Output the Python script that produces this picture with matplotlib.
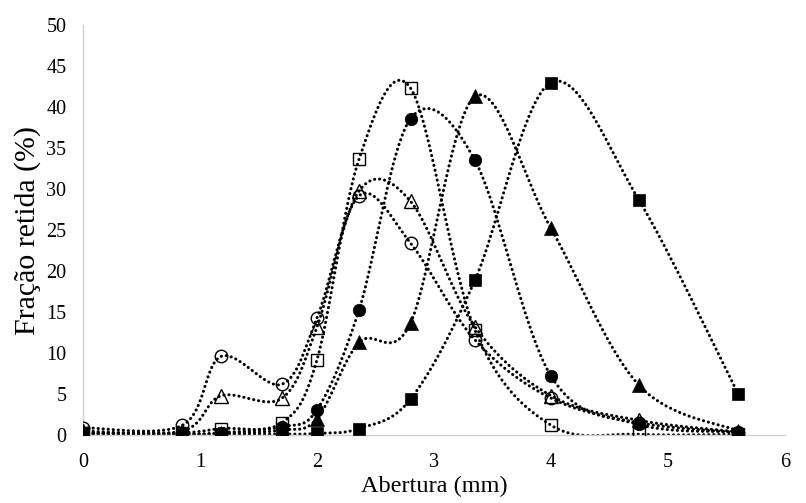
import numpy as np
import matplotlib
matplotlib.use('Agg')
import matplotlib.pyplot as plt

plt.rcParams['font.family'] = ['Liberation Serif', 'DejaVu Serif']

# sieve apertures (mm)
abertura = [0, 0.85, 1.18, 1.7, 2.0, 2.36, 2.8, 3.35, 4.0, 4.75, 5.6]

# retained fraction (%) per series
circ_open = [0.9, 1.2, 9.6, 6.2, 14.3, 29.2, 23.4, 11.6, 4.5, 1.5, 0.3]
tri_open = [0.5, 0.5, 4.8, 4.5, 13.2, 29.8, 28.5, 13.2, 4.8, 1.8, 0.4]
sq_open = [0.2, 0.3, 0.8, 1.5, 9.2, 33.7, 42.3, 12.8, 1.2, 0.1, 0.1]
circ_fill = [0.3, 0.1, 0.3, 1.0, 3.1, 15.3, 38.6, 33.5, 7.2, 1.3, 0.4]
tri_fill = [0.2, 0.1, 0.2, 0.6, 2.0, 11.3, 13.7, 41.3, 25.2, 6.1, 0.5]
sq_fill = [0.1, 0.1, 0.1, 0.1, 0.2, 0.8, 4.4, 18.9, 43.0, 28.7, 5.0]


def smooth(x, y, n=40):
    # catmull-rom style bezier, similar to excel smoothed lines
    x = np.asarray(x, float)
    y = np.asarray(y, float)
    xs, ys = [], []
    for i in range(len(x) - 1):
        p0 = (x[max(i - 1, 0)], y[max(i - 1, 0)])
        p1 = (x[i], y[i])
        p2 = (x[i + 1], y[i + 1])
        p3 = (x[min(i + 2, len(x) - 1)], y[min(i + 2, len(x) - 1)])
        c1 = (p1[0] + (p2[0] - p0[0]) / 6, p1[1] + (p2[1] - p0[1]) / 6)
        c2 = (p2[0] - (p3[0] - p1[0]) / 6, p2[1] - (p3[1] - p1[1]) / 6)
        t = np.linspace(0, 1, n)
        b0 = (1 - t) ** 3
        b1 = 3 * (1 - t) ** 2 * t
        b2 = 3 * (1 - t) * t ** 2
        b3 = t ** 3
        xs.append(b0 * p1[0] + b1 * c1[0] + b2 * c2[0] + b3 * p2[0])
        ys.append(b0 * p1[1] + b1 * c1[1] + b2 * c2[1] + b3 * p2[1])
    return np.concatenate(xs), np.concatenate(ys)


fig = plt.figure(figsize=(8.06, 5.03), dpi=100)
ax = fig.add_axes([0.103, 0.135, 0.871, 0.815])

series = [
    (circ_open, 'o', 'none'),
    (tri_open, '^', 'none'),
    (sq_open, 's', 'none'),
    (circ_fill, 'o', 'black'),
    (tri_fill, '^', 'black'),
    (sq_fill, 's', 'black'),
]

for vals, mk, fc in series:
    sx, sy = smooth(abertura, vals)
    ax.plot(sx, sy, color='black', linewidth=2.2, linestyle=(0, (0.05, 1.6)),
            dash_capstyle='round', zorder=2)
    ax.plot(abertura, vals, linestyle='none', marker=mk,
            markersize=9 if mk != '^' else 10,
            markerfacecolor=fc, markeredgecolor='black',
            markeredgewidth=1.0 if fc == 'none' else 0.5, zorder=3)

ax.set_xlim(0, 6)
ax.set_ylim(0, 50)
ax.set_xticks(range(0, 7))
ax.set_yticks(range(0, 51, 5))
ax.tick_params(length=0, labelsize=14.5)
ax.tick_params(axis='x', pad=13)
ax.tick_params(axis='y', pad=12)
for s in ['top', 'right']:
    ax.spines[s].set_visible(False)
for s in ['left', 'bottom']:
    ax.spines[s].set_color('#d0d0d0')
    ax.spines[s].set_linewidth(1.0)

ax.set_xlabel('Abertura (mm)', fontsize=17.5, labelpad=3)
ax.set_ylabel('Fração retida (%)', fontsize=21.5, labelpad=4)

fig.savefig('out.png', dpi=100)
